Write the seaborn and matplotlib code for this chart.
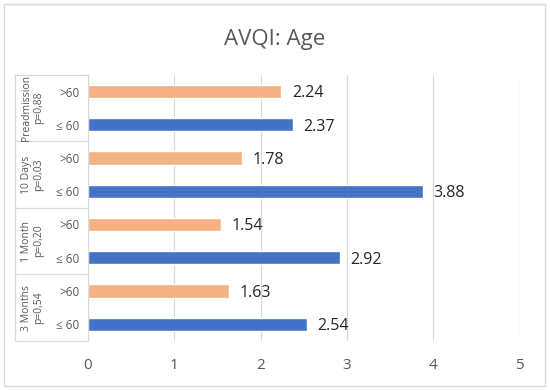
import matplotlib
matplotlib.use("Agg")
import matplotlib.pyplot as plt
import matplotlib.patches as mpatches
import matplotlib.transforms as mtransforms
import pandas as pd
import seaborn as sns

groups = ['Preadmission\np=0,88', '10 Days\np=0,03', '1 Month\np=0,20', '3 Months\np=0,54']
ages = ['>60', '≤ 60']
values = [2.24, 2.37, 1.78, 3.88, 1.54, 2.92, 1.63, 2.54]
colors = {'>60': '#F4B183', '≤ 60': '#4472C4'}

rows = []
i = 0
for g in groups:
    for a in ages:
        rows.append({'slot': 'r%d' % i, 'group': g, 'age': a, 'value': values[i]})
        i += 1
df = pd.DataFrame(rows)

sns.set_style('white')
plt.rcParams['font.family'] = ['Open Sans', 'DejaVu Sans']

fig = plt.figure(figsize=(5.5, 3.9), dpi=100)
ax = fig.add_axes([0.16, 0.126, 0.785, 0.682])

sns.barplot(data=df, x='value', y='slot', hue='age', palette=colors,
            dodge=False, width=0.4, legend=False, ax=ax, saturation=1)

ax.set_xlim(0, 5)
ax.set_ylim(len(df) - 0.5, -0.5)
ax.set_xticks(range(6))
ax.xaxis.grid(True, color='#D9D9D9', linewidth=0.9)
ax.set_axisbelow(True)
for s in ['top', 'right', 'bottom']:
    ax.spines[s].set_visible(False)
ax.spines['left'].set_color('#D9D9D9')
ax.set_xlabel('')
ax.set_ylabel('')
ax.set_yticks(range(len(df)))
ax.set_yticklabels(df['age'], fontsize=8.5, color='#595959')
ax.tick_params(axis='y', length=0, pad=6)
ax.tick_params(axis='x', length=0, labelsize=11, labelcolor='#595959', pad=12)

for idx, row in df.iterrows():
    ax.text(row['value'] + 0.12, idx + 0.06, '%.2f' % row['value'],
            va='center', ha='left', fontsize=11.5, color='#262626')

# group boxes on the left
trans = mtransforms.blended_transform_factory(ax.transAxes, ax.transData)
x0 = -0.169
for k, g in enumerate(groups):
    top = 2 * k - 0.5
    ax.plot([x0, 0], [top, top], transform=trans, color='#D9D9D9', lw=0.9, clip_on=False)
    ax.text(-0.128, 2 * k + 0.5, g, transform=trans, rotation=90, ha='center', va='center',
            fontsize=7.5, color='#595959', linespacing=1.1)
ax.plot([x0, 0], [len(df) - 0.5] * 2, transform=trans, color='#D9D9D9', lw=0.9, clip_on=False)
ax.plot([x0, x0], [-0.5, len(df) - 0.5], transform=trans, color='#D9D9D9', lw=0.9, clip_on=False)

fig.text(0.5, 0.898, 'AVQI: Age', ha='center', va='center', fontsize=16, color='#595959')

fig.patches.append(mpatches.Rectangle((0.007, 0.01), 0.984, 0.98, transform=fig.transFigure,
                                      fill=False, edgecolor='#D9D9D9', lw=1))

fig.savefig('out.png', dpi=100)
